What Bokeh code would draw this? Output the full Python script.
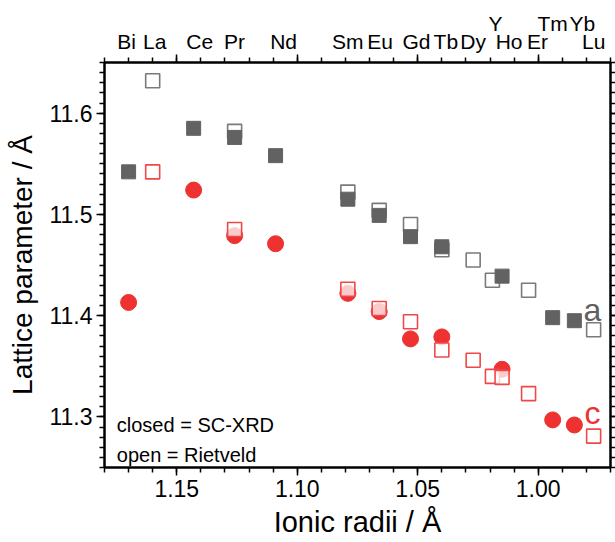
from bokeh.plotting import figure
from bokeh.models import (Range1d, LinearAxis, FixedTicker, NumeralTickFormatter,
                          CustomJSTickFormatter, ColumnDataSource)
from bokeh.core.properties import value
from bokeh.embed import file_html
from bokeh.resources import INLINE

FONT = "Liberation Sans"

# ---------------- data ----------------
elements = ["Bi", "La", "Ce", "Pr", "Nd", "Sm", "Eu", "Gd", "Tb", "Dy", "Y", "Ho", "Er", "Tm", "Yb", "Lu"]
radii = [1.17, 1.16, 1.143, 1.126, 1.109, 1.079, 1.066, 1.053, 1.040, 1.027, 1.019, 1.015, 1.004, 0.994, 0.985, 0.977]
upper_row = ["Y", "Tm", "Yb"]

# closed symbols = SC-XRD
scxrd_el = ["Bi", "Ce", "Pr", "Nd", "Sm", "Eu", "Gd", "Tb", "Ho", "Tm", "Yb"]
scxrd_a = [11.542, 11.585, 11.576, 11.558, 11.515, 11.499, 11.478, 11.468, 11.439, 11.398, 11.395]
scxrd_c = [11.413, 11.524, 11.479, 11.471, 11.422, 11.404, 11.377, 11.379, 11.347, 11.297, 11.292]

# open symbols = Rietveld
riet_a_el = ["La", "Pr", "Sm", "Eu", "Gd", "Tb", "Dy", "Y", "Er", "Lu"]
riet_a = [11.632, 11.582, 11.522, 11.504, 11.490, 11.465, 11.455, 11.435, 11.425, 11.386]
riet_c_el = ["La", "Pr", "Sm", "Eu", "Gd", "Tb", "Dy", "Y", "Ho", "Er", "Lu"]
riet_c = [11.542, 11.485, 11.426, 11.407, 11.394, 11.366, 11.356, 11.340, 11.339, 11.323, 11.281]

x_major = [1.15, 1.10, 1.05, 1.00]
y_major = [11.3, 11.4, 11.5, 11.6]

r_of = dict(zip(elements, radii))

# small horizontal nudges (in px) of the element names, as placed in the original
label_nudge_px = {"Bi": -2, "La": 2, "Ce": 6, "Nd": 8, "Eu": 1, "Gd": 6, "Tb": 4, "Y": 3,
                  "Ho": 7, "Er": 9, "Yb": 8}

GRAY_FILL = "#626262"
GRAY_LINE = "#7a7a7a"
RED = "#ee3131"
RED_LINE = "#f04848"

X0, X1 = 1.18, 0.97
FRAME_W = 506.0
PX_PER_UNIT = FRAME_W / (X0 - X1)

p = figure(width=615, height=542, output_backend="svg", toolbar_location=None,
           x_range=Range1d(X0, X1), y_range=Range1d(11.25, 11.65),
           min_border_left=104, min_border_right=2, min_border_top=62, min_border_bottom=75)
p.grid.visible = False
p.outline_line_color = "black"
p.outline_line_width = 2
p.background_fill_color = "white"
p.border_fill_color = "white"

x_minor = [round(1.18 - 0.01 * i, 2) for i in range(22)]
y_minor = [round(11.25 + 0.01 * i, 2) for i in range(41)]

EMPTY = CustomJSTickFormatter(code="return '';")


def style_axis(ax, tick_out=8, minor_out=5):
    ax.axis_line_color = "black"
    ax.axis_line_width = 2
    ax.major_tick_line_width = 1.5
    ax.minor_tick_line_width = 1.5
    ax.major_tick_out = tick_out
    ax.major_tick_in = 0
    ax.minor_tick_out = minor_out
    ax.minor_tick_in = 0
    ax.major_label_text_font = FONT
    ax.major_label_text_color = "black"
    ax.axis_label_text_font = FONT
    ax.axis_label_text_font_style = "normal"
    ax.axis_label_text_color = "black"


def hide_labels(ax):
    ax.formatter = EMPTY
    ax.major_label_text_font_size = "0px"
    ax.major_label_standoff = 0


xb = p.xaxis[0]
xb.ticker = FixedTicker(ticks=x_major, minor_ticks=x_minor)
xb.formatter = NumeralTickFormatter(format="0.00")
style_axis(xb)
xb.major_label_text_font_size = "23px"
xb.major_label_standoff = 4
xb.axis_label = "Ionic radii / Å"
xb.axis_label_text_font_size = "29px"
xb.axis_label_standoff = 6

yl = p.yaxis[0]
yl.ticker = FixedTicker(ticks=y_major, minor_ticks=y_minor)
yl.formatter = NumeralTickFormatter(format="0.0")
style_axis(yl)
yl.major_label_text_font_size = "23px"
yl.major_label_standoff = 4
yl.axis_label = "Lattice parameter / Å"
yl.axis_label_text_font_size = "28px"
yl.axis_label_standoff = 8

# top axis: mirrored ticks, no numbers
xt = LinearAxis(ticker=FixedTicker(ticks=x_major, minor_ticks=x_minor))
style_axis(xt, tick_out=8, minor_out=5)
hide_labels(xt)
p.add_layout(xt, "above")


def label_x(e):
    return r_of[e] - label_nudge_px.get(e, 0) / PX_PER_UNIT


# element names (lower row, then upper row)
low = [(label_x(e), e) for e in elements if e not in upper_row]
up = [(label_x(e), e) for e in elements if e in upper_row]
for rows, stand in ((low, 2), (up, -8)):
    ax = LinearAxis(ticker=FixedTicker(ticks=[x for x, _ in rows], minor_ticks=[]),
                    major_label_overrides={x: e for x, e in rows})
    ax.axis_line_color = None
    ax.major_tick_line_color = None
    ax.minor_tick_line_color = None
    ax.major_tick_out = 0
    ax.major_tick_in = 0
    ax.minor_tick_out = 0
    ax.minor_tick_in = 0
    ax.major_label_standoff = stand
    ax.major_label_text_font = FONT
    ax.major_label_text_font_size = "21px"
    ax.major_label_text_color = "black"
    p.add_layout(ax, "above")

yr = LinearAxis(ticker=FixedTicker(ticks=y_major, minor_ticks=y_minor))
style_axis(yr, tick_out=5, minor_out=5)
hide_labels(yr)
p.add_layout(yr, "right")

# ---------------- markers ----------------
src_ra = ColumnDataSource(dict(x=[r_of[e] for e in riet_a_el], y=riet_a))
src_sa = ColumnDataSource(dict(x=[r_of[e] for e in scxrd_el], y=scxrd_a))
src_sc = ColumnDataSource(dict(x=[r_of[e] for e in scxrd_el], y=scxrd_c))
src_rc = ColumnDataSource(dict(x=[r_of[e] for e in riet_c_el], y=riet_c))

p.scatter("x", "y", source=src_ra, marker="square", size=14, fill_color="white", fill_alpha=0.7,
          line_color=GRAY_LINE, line_width=1.6)
p.scatter("x", "y", source=src_sa, marker="square", size=14, fill_color=GRAY_FILL,
          line_color=GRAY_FILL, line_width=1)
p.scatter("x", "y", source=src_sc, marker="circle", size=16, fill_color=RED, line_color=RED, line_width=1)
p.scatter("x", "y", source=src_rc, marker="square", size=14, fill_color="white", fill_alpha=0.75,
          line_color=RED_LINE, line_width=1.6)

# series labels
p.text(x=[0.9775], y=[11.4055], text=["a"], text_font=value(FONT), text_font_size="32px",
       text_color="#606060", text_align="center", text_baseline="alphabetic")
p.text(x=[0.9775], y=[11.304], text=["c"], text_font=value(FONT), text_font_size="32px",
       text_color=RED, text_align="center", text_baseline="alphabetic")

# legend text
p.text(x=[1.1749, 1.1749], y=[11.2924, 11.2628], text=["closed = SC-XRD", "open = Rietveld"],
       text_font=value(FONT), text_font_size="20px", text_color="black",
       text_align="left", text_baseline="alphabetic")

open("out.html", "w").write(file_html(p, INLINE))
